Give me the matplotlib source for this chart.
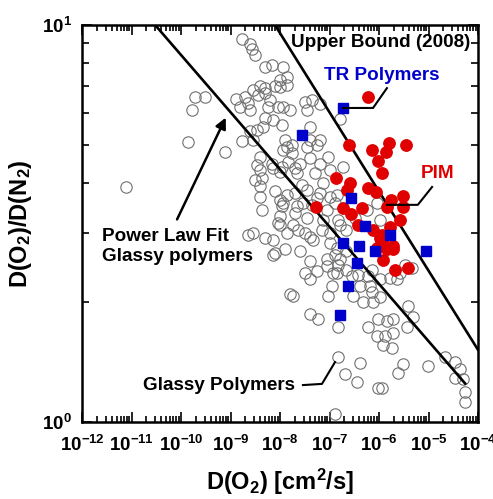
import numpy as np
import matplotlib
matplotlib.use("Agg")
import matplotlib.pyplot as plt
from matplotlib.ticker import LogLocator, NullFormatter
from matplotlib.lines import Line2D

plt.rcParams['font.family'] = ['Liberation Sans', 'DejaVu Sans']
plt.rcParams['font.weight'] = 'bold'
plt.rcParams['mathtext.fontset'] = 'custom'
plt.rcParams['mathtext.rm'] = 'Liberation Sans:bold'
plt.rcParams['mathtext.it'] = 'Liberation Sans:bold'
plt.rcParams['mathtext.bf'] = 'Liberation Sans:bold'
plt.rcParams['mathtext.default'] = 'bf'

# ---- data: glassy polymers (open circles) ----
glassy_D = [7.8e-12, 1.4e-10, 1.65e-10, 1.9e-10, 3.0e-10, 7.7e-10, 1.7e-9, 1.3e-9, 1.55e-9, 1.73e-9,
            2.5e-9, 2.7e-9, 3.1e-9, 5.0e-9, 6.9e-9, 1.15e-8, 1.37e-8, 1.0e-8, 1.0e-8, 3.95e-9,
            2.85e-9, 3.65e-9, 1.97e-9, 2.25e-9, 2.5e-9, 5.0e-9, 7.9e-9, 5.0e-9, 6.3e-9, 5.8e-9,
            9.2e-9, 1.17e-8, 1.37e-8, 3.2e-8, 4.4e-8, 6.4e-8, 1.6e-8, 3.45e-8, 5.0e-9, 7.3e-9,
            4.6e-9, 1.08e-8, 3.4e-9, 2.5e-9, 2.9e-9, 1.26e-8, 1.72e-8, 1.17e-8, 4.0e-8, 4.0e-8,
            5.5e-8, 6.4e-8, 3.45e-8, 1.72e-8, 2.54e-8, 2.0e-8, 4.0e-8, 6.4e-8, 1.02e-7, 5.1e-8,
            7.5e-8, 3.45e-8, 2.0e-8, 2.95e-8, 5.5e-8, 1.02e-7, 8.8e-8, 1.29e-7, 1.5e-7, 7.5e-8,
            3.45e-8, 2.0e-8, 1.63e-7, 1.9e-7, 5.6e-7, 9.5e-8, 3.95e-9, 6.8e-9, 1.08e-8, 2.17e-8,
            1.47e-8, 3.4e-9, 3.95e-9, 3.1e-9, 4.3e-9, 7.3e-9, 1.0e-8, 7.9e-9, 3.95e-9, 4.3e-9,
            1.0e-8, 1.08e-8, 1.0e-8, 9.2e-9, 1.37e-8, 3.95e-9, 1.37e-8, 2.75e-8, 6.4e-8, 1.17e-8,
            2.17e-8, 4.4e-8, 1.4e-7, 2.9e-9, 7.3e-9, 1.37e-8, 2.35e-8, 4.0e-8, 7.0e-8, 1.02e-7,
            2.2e-7, 3.3e-7, 9.0e-7, 1.05e-6, 2.25e-9, 5.0e-9, 7.9e-9, 1.26e-8, 1.0e-8, 1.6e-8,
            1.86e-8, 3.2e-8, 4.7e-8, 2.54e-8, 4.0e-8, 3.2e-8, 1.86e-8, 4.0e-8, 5.9e-8, 9.5e-8,
            1.1e-7, 1.19e-7, 8.8e-8, 1.29e-7, 1.02e-7, 1.63e-7, 2.2e-7, 2.2e-7, 2.8e-7, 3.0e-7,
            4.1e-7, 4.8e-7, 6.6e-7, 7.7e-7, 9.7e-7, 6.1e-7, 9.0e-7, 1.5e-7, 1.5e-7, 4.1e-7,
            2.05e-7, 3.55e-7, 9.7e-7, 1.29e-7, 1.22e-6, 1.32e-6, 1.8e-6, 1.95e-6, 1.43e-6, 1.92e-6,
            3.1e-6, 2.45e-6, 3.6e-6, 3.9e-6, 4.9e-6, 9.9e-6, 2.15e-5, 3.4e-5, 4.3e-5, 3.4e-5,
            5.0e-5, 5.5e-5, 5.5e-5, 5.5e-8, 1.5e-7, 1.4e-7, 3.8e-7, 6.1e-7, 7.1e-7, 1.05e-6,
            1.67e-6, 2.3e-6, 7.1e-7, 1.05e-6, 7.3e-9, 4.0e-8, 8.8e-8, 1.4e-7, 1.63e-7, 2.65e-6,
            4.6e-6, 3.35e-6, 1.13e-6]
glassy_ratio = [3.9, 5.08, 6.1, 6.6, 6.6, 4.8, 5.1, 6.5, 6.2, 9.2,
                8.95, 8.7, 8.4, 7.85, 7.93, 7.85, 7.4, 7.27, 6.98, 7.0,
                6.86, 6.66, 6.6, 6.36, 6.1, 6.93, 7.0, 6.73, 6.47, 6.2,
                6.2, 6.2, 7.06, 6.4, 6.47, 6.34, 6.1, 6.1, 5.83, 5.76,
                5.54, 5.6, 5.44, 5.4, 5.13, 5.13, 4.99, 4.84, 5.54, 5.13,
                4.99, 5.13, 4.94, 4.75, 4.46, 4.36, 4.62, 4.46, 4.32, 4.23,
                3.99, 3.84, 3.77, 3.56, 3.66, 3.69, 3.42, 3.56, 3.23, 3.23,
                3.26, 3.36, 5.8, 4.4, 3.42, 4.66, 4.66, 4.46, 4.4, 4.23,
                4.53, 4.44, 4.32, 4.07, 4.11, 4.36, 4.27, 3.81, 3.69, 3.42,
                3.63, 3.49, 3.3, 3.17, 4.94, 3.92, 3.73, 3.96, 3.77, 3.56,
                3.49, 3.52, 3.73, 2.99, 2.88, 2.99, 3.05, 2.93, 3.05, 2.99,
                3.05, 3.26, 3.56, 3.23, 2.96, 2.9, 2.67, 2.72, 3.14, 2.1,
                3.14, 2.99, 2.88, 2.69, 2.54, 2.37, 2.08, 1.87, 1.82, 2.08,
                2.2, 2.37, 2.47, 2.64, 2.83, 3.14, 2.69, 2.42, 2.33, 2.08,
                2.2, 2.0, 2.2, 2.01, 1.82, 1.74, 1.65, 1.74, 1.46, 1.41,
                1.32, 1.26, 1.22, 1.05, 1.56, 1.65, 1.54, 1.68, 1.8, 1.82,
                1.4, 1.33, 1.74, 1.96, 1.84, 1.38, 1.46, 1.42, 1.36, 1.29,
                1.28, 1.19, 1.12, 2.4, 2.49, 2.37, 2.35, 2.33, 2.12, 2.29,
                2.31, 2.29, 2.42, 2.06, 2.64, 2.29, 2.57, 2.75, 2.57, 2.37,
                2.45, 2.49, 1.22]

# ---- PIM (red filled circles) ----
pim_D = [6.1e-7, 2.5e-7, 7.1e-7, 1.6e-6, 3.5e-6, 1.37e-6, 9.4e-7, 1.13e-6, 1.33e-7, 2.6e-7,
         2.3e-7, 6.1e-7, 8.7e-7, 1.75e-6, 3.1e-6, 5.3e-8, 1.9e-7, 2.7e-7, 4.5e-7, 1.43e-6,
         3.1e-6, 3.8e-7, 7.4e-7, 1.67e-6, 2.65e-6, 1.05e-6, 1.22e-6, 1.95e-6, 1.13e-6, 1.9e-6,
         1.2e-6, 2.1e-6, 3.85e-6, 9.0e-7, 1.43e-6, 1.05e-6]
pim_ratio = [6.6, 5.0, 4.85, 5.05, 5.0, 4.8, 4.55, 4.25, 4.12, 4.0,
             3.85, 3.88, 3.8, 3.62, 3.7, 3.47, 3.45, 3.35, 3.45, 3.48,
             3.48, 3.14, 3.04, 3.1, 3.23, 2.9, 2.8, 2.78, 2.95, 2.72,
             2.56, 2.41, 2.44, 2.75, 2.72, 2.77]

# ---- TR polymers (blue squares) ----
tr_D = [1.85e-7, 2.75e-8, 2.7e-7, 5.2e-7, 1.67e-6, 1.9e-7, 3.95e-7, 8.7e-6, 8.3e-7, 3.65e-7,
        2.4e-7, 1.63e-7]
tr_ratio = [6.17, 5.27, 3.66, 3.12, 2.96, 2.82, 2.78, 2.7, 2.69, 2.51,
            2.2, 1.86]

# ---- lines ----
upper_bound_D = [7.9e-9, 1e-4]
upper_bound_ratio = [10.0, 1.52]
power_fit_D = [3.0e-11, 5.5e-5]
power_fit_ratio = [10.0, 1.25]

fig = plt.figure(figsize=(4.93, 4.99), dpi=100)
ax = fig.add_axes([82/493, 1-422/499, 396/493, 397/499])

ax.plot(glassy_D, glassy_ratio, linestyle='none', marker='o', ms=8.2,
        mfc='none', mec='#707070', mew=0.8, zorder=2)
ax.plot(upper_bound_D, upper_bound_ratio, color='black', lw=1.9, zorder=3)
ax.plot(power_fit_D, power_fit_ratio, color='black', lw=1.9, zorder=3)
ax.plot(pim_D, pim_ratio, linestyle='none', marker='o', ms=8.2,
        mfc='#e00000', mec='#e00000', zorder=4)
ax.plot(tr_D, tr_ratio, linestyle='none', marker='s', ms=7.2,
        mfc='#0000cc', mec='#0000cc', zorder=5)

ax.set_xscale('log')
ax.set_yscale('log')
ax.set_xlim(1e-12, 1e-4)
ax.set_ylim(1, 10)

ax.xaxis.set_major_locator(LogLocator(base=10, numticks=20))
ax.xaxis.set_minor_locator(LogLocator(base=10, subs=np.arange(2, 10), numticks=200))
ax.xaxis.set_minor_formatter(NullFormatter())
ax.yaxis.set_major_locator(LogLocator(base=10, numticks=20))
ax.yaxis.set_minor_locator(LogLocator(base=10, subs=np.arange(2, 10), numticks=200))
ax.yaxis.set_minor_formatter(NullFormatter())

ax.tick_params(which='both', direction='in', top=True, right=True, width=1.2,
               labelsize=13.5)
ax.tick_params(axis='x', which='both', pad=9)
ax.tick_params(axis='y', which='both', pad=7)
ax.tick_params(which='major', length=7)
ax.tick_params(which='minor', length=4)
ax.tick_params(axis='y', which='minor', length=5)
for s in ax.spines.values():
    s.set_linewidth(1.8)

ax.set_xlabel(r'D(O$_2$) [cm$^2$/s]', fontsize=17, fontweight='bold', labelpad=9)
ax.set_ylabel(r'D(O$_2$)/D(N$_2$)', fontsize=17, fontweight='bold', labelpad=6)

tf = ax.transAxes
fs = 13.6
ax.text(0.98, 0.955, 'Upper Bound (2008)', transform=tf, ha='right', va='center',
        fontsize=fs, fontweight='bold', color='black')
ax.text(0.758, 0.874, 'TR Polymers', transform=tf, ha='center', va='center',
        fontsize=fs, fontweight='bold', color='#0000cc')
ax.add_line(Line2D([0.770, 0.735, 0.659], [0.841, 0.791, 0.791], transform=tf,
                   color='black', lw=1.5, zorder=6))
ax.text(0.899, 0.627, 'PIM', transform=tf, ha='center', va='center',
        fontsize=fs, fontweight='bold', color='#e00000')
ax.add_line(Line2D([0.884, 0.848, 0.770], [0.592, 0.547, 0.547], transform=tf,
                   color='black', lw=1.5, zorder=6))
ax.text(0.0505, 0.442, 'Power Law Fit\nGlassy polymers', transform=tf, ha='left',
        va='center', fontsize=fs, fontweight='bold', linespacing=1.25)
ax.annotate('', xy=(0.366, 0.773), xytext=(0.237, 0.504), xycoords=tf, textcoords=tf,
            arrowprops=dict(arrowstyle='-|>', color='black', lw=1.8, mutation_scale=16))
ax.text(0.154, 0.093, 'Glassy Polymers', transform=tf, ha='left', va='center',
        fontsize=fs, fontweight='bold')
ax.add_line(Line2D([0.558, 0.606, 0.639], [0.093, 0.096, 0.151], transform=tf,
                   color='black', lw=1.5, zorder=6))

fig.savefig('out.png', dpi=100)
